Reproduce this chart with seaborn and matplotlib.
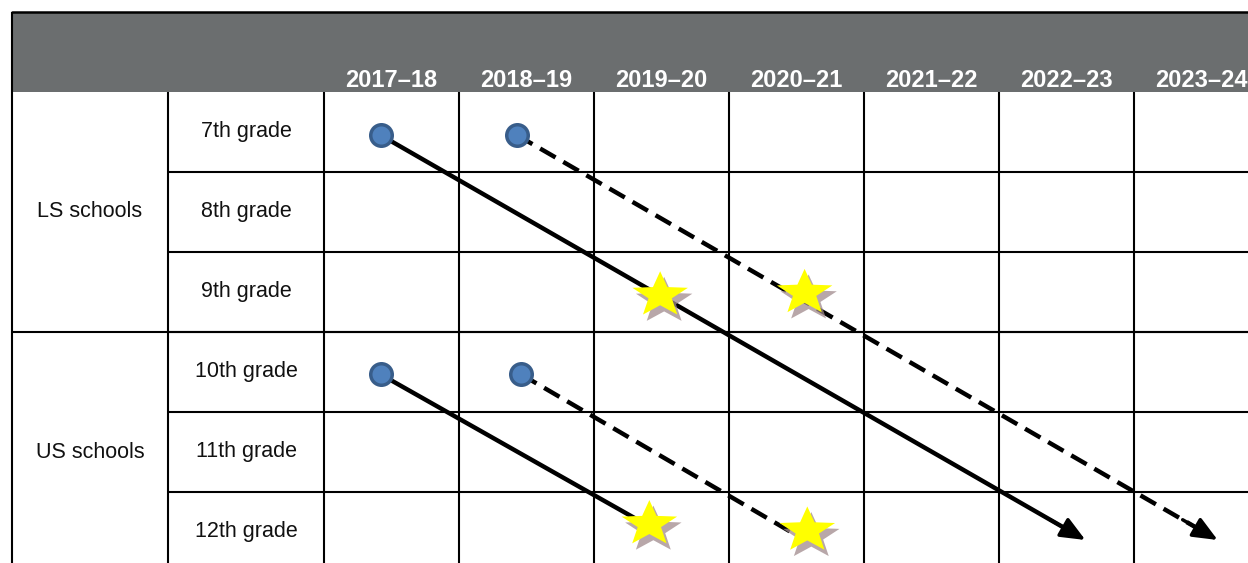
import numpy as np
import pandas as pd
import seaborn as sns
import matplotlib.pyplot as plt
from matplotlib.patches import Rectangle
from matplotlib.path import Path

years = ['2017–18', '2018–19', '2019–20', '2020–21', '2021–22', '2022–23', '2023–24']
grades = ['7th grade', '8th grade', '9th grade', '10th grade', '11th grade', '12th grade']
schools = ['LS schools', 'US schools']
grades_per_school = [3, 3]

# cohort paths, in (year column, grade row) units
cohort_names = ['LS cohort A', 'LS cohort B', 'US cohort A', 'US cohort B']
start_year = [-0.08, 0.93, -0.08, 0.96]
start_grade = [0.04, 0.04, 3.03, 3.03]
end_year = [5.14, 6.12, 1.91, 3.0]
end_grade = [5.1, 5.1, 4.93, 5.04]
cohort_dashed = [False, True, False, True]
cohort_arrow = [True, True, False, False]
star_year = [1.99, 3.06, 1.91, 3.08]
star_grade = [2.04, 2.01, 4.9, 4.98]

sns.set_theme(style='white')
plt.rcParams['font.family'] = ['Liberation Sans', 'DejaVu Sans']

fig = plt.figure(figsize=(12.48, 5.63), dpi=100)
ax = fig.add_axes([0, 0, 1, 1])
ax.set_xlim(-391.5 / 135, (1248 - 391.5) / 135)
ax.set_ylim((563 - 132) / 80, -132 / 80)
ax.axis('off')

label_w = 156 / 135
grade_left = -0.5 - label_w
school_left = grade_left - label_w
n_years, n_rows = len(years), len(grades)
right = n_years - 0.5

# header band
ax.add_patch(Rectangle((school_left, -1.5), right + 1 - school_left, 1.0,
                       facecolor='#6b6e6f', edgecolor='none', zorder=1))
ax.plot([school_left, right + 1], [-1.5, -1.5], color='black', lw=1.8, zorder=2)
for i, yr in enumerate(years):
    ax.text(i, -0.645, yr, ha='center', va='center', color='white',
            fontsize=17, fontweight='bold', zorder=3)

# grid
lw = 1.5
ax.vlines([school_left], -1.5, n_rows, color='black', lw=lw, zorder=2)
ax.vlines(np.arange(n_years) - 0.5, -0.5, n_rows, color='black', lw=lw, zorder=2)
ax.vlines([grade_left], -0.5, n_rows, color='black', lw=lw, zorder=2)
ax.hlines(np.arange(1, n_rows) - 0.5, grade_left, right + 1, color='black', lw=lw, zorder=2)
bounds = np.cumsum(grades_per_school)[:-1] - 0.5
ax.hlines(bounds, school_left, right + 1, color='black', lw=lw, zorder=2)

for j, g in enumerate(grades):
    ax.text(grade_left + label_w / 2, j, g, ha='center', va='center',
            fontsize=15.5, color='#111111', zorder=3)
start = 0
for s, n in zip(schools, grades_per_school):
    ax.text(school_left + label_w / 2, start + (n - 1) / 2, s, ha='center',
            va='center', fontsize=15.5, color='#111111', zorder=3)
    start += n

# cohort lines
for k in range(len(cohort_names)):
    x0, y0, x1, y1 = start_year[k], start_grade[k], end_year[k], end_grade[k]
    t = 0.975 if cohort_arrow[k] else 1.0
    seg = pd.DataFrame({'x': [x0, x0 + t * (x1 - x0)], 'y': [y0, y0 + t * (y1 - y0)]})
    style = (0, (4, 2)) if cohort_dashed[k] else '-'
    sns.lineplot(data=seg, x='x', y='y', ax=ax, color='black', lw=3.2,
                 linestyle=style, sort=False, zorder=3)
    if cohort_arrow[k]:
        ax.annotate('', xy=(x1, y1), xytext=(x0 + 0.95 * (x1 - x0), y0 + 0.95 * (y1 - y0)),
                    arrowprops=dict(arrowstyle='-|>,head_length=0.75,head_width=0.32',
                                    color='black', lw=2.5, mutation_scale=20,
                                    shrinkA=0, shrinkB=0), zorder=3)

# a squat, full five-point star like the drawing tool's shape
ang = np.pi / 2 + np.arange(10) * np.pi / 5
rad = np.where(np.arange(10) % 2 == 0, 1.0, 0.42)
verts = np.column_stack([rad * np.cos(ang), 0.82 * rad * np.sin(ang)])
verts = np.vstack([verts, verts[:1]])
star = Path(verts, closed=True)

stars = pd.DataFrame({'year': star_year, 'grade': star_grade})
shadow = stars.copy()
shadow['year'] += 4 / 135
shadow['grade'] += 6 / 80
sns.scatterplot(data=shadow, x='year', y='grade', ax=ax, marker=star, s=1650,
                color='#a08a8c', alpha=0.75, edgecolor='none', zorder=4, legend=False)
sns.scatterplot(data=stars, x='year', y='grade', ax=ax, marker=star, s=1600,
                color='#ffff00', edgecolor='none', zorder=5, legend=False)

# cohort starting points
starts = pd.DataFrame({'year': start_year, 'grade': start_grade})
sns.scatterplot(data=starts, x='year', y='grade', ax=ax, marker='o', s=240,
                color='#4f81bd', edgecolor='#385d8a', linewidth=2.5, zorder=6, legend=False)

ax.set_xlabel('')
ax.set_ylabel('')
fig.savefig('out.png', dpi=100)
